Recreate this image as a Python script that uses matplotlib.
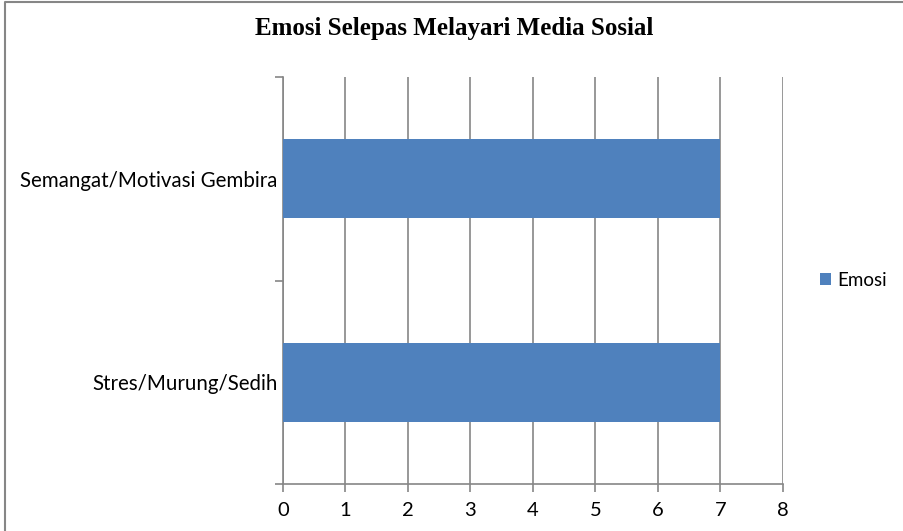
import matplotlib.pyplot as plt
from matplotlib.lines import Line2D

# data
categories = ["Stres/Murung/Sedih", "Semangat/Motivasi Gembira"]
values = [7, 7]
series_name = "Emosi"
title = "Emosi Selepas Melayari Media Sosial"

fig = plt.figure(figsize=(9.04, 5.31), dpi=100)
ax = fig.add_axes([0.313, 0.0885, 0.553, 0.7665])

pos = list(range(len(categories)))
ax.barh(pos, values, height=0.39, color="#4F81BD", label=series_name, zorder=3)

ax.set_xlim(0, 8)
ax.set_ylim(-0.5, len(categories) - 0.5)
ax.set_xticks(range(0, 9))
ax.grid(axis="x", color="#868686", linewidth=1.2, zorder=0)

# category labels at centres, tick marks at boundaries
ax.set_yticks(pos)
ax.set_yticklabels(categories, fontsize=14.8, family="Lato")
ax.tick_params(axis="y", length=0, pad=4)
ax.set_yticks([-0.5, 0.5, 1.5], minor=True)
ax.tick_params(axis="y", which="minor", length=6, color="#868686", width=1.2)
ax.tick_params(axis="x", length=6, color="#868686", width=1.2, labelsize=14.5, pad=7)
for lbl in ax.get_xticklabels():
    lbl.set_family("Lato")

for s in ["top", "right"]:
    ax.spines[s].set_visible(False)
for s in ["left", "bottom"]:
    ax.spines[s].set_color("#868686")
    ax.spines[s].set_linewidth(1.2)

fig.text(0.502, 0.947, title, ha="center", va="center", fontsize=18,
         fontweight="bold", family="Liberation Serif")

ax.legend(loc="center left", bbox_to_anchor=(1.04, 0.5), frameon=False,
          prop={"family": "Lato", "size": 13.5}, handlelength=0.6,
          handleheight=0.6, handletextpad=0.35)

# chart border (only top and left edges visible)
fig.lines.append(Line2D([0.006, 0.006, 1.0], [0.0, 0.996, 0.996], transform=fig.transFigure,
                        color="#868686", linewidth=1.5))

fig.savefig("out.png", dpi=100)
